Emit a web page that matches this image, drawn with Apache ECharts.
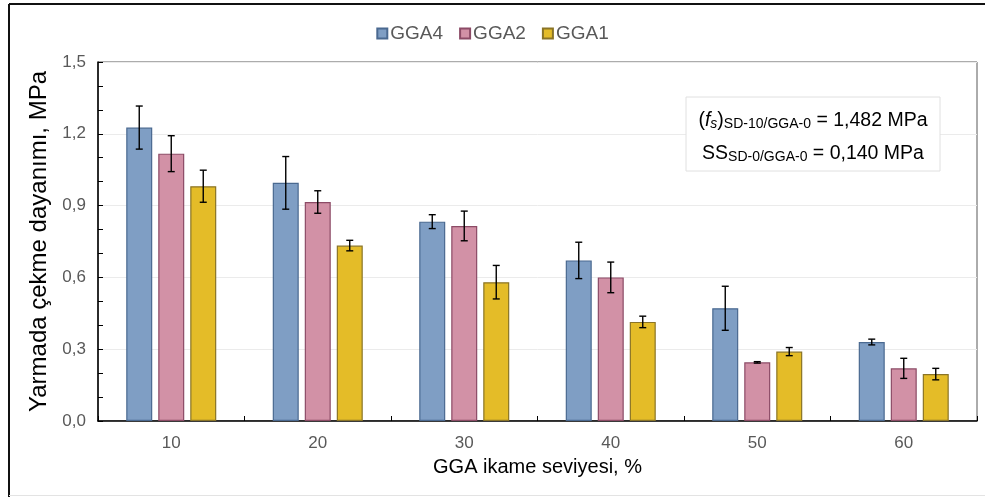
<!DOCTYPE html>
<html>
<head>
<meta charset="utf-8">
<script src="https://cdn.jsdelivr.net/npm/echarts@6/dist/echarts.min.js"></script>
<style>
  html, body { margin: 0; padding: 0; background: #fff; }
  #chart { width: 985px; height: 497px; }
</style>
</head>
<body>
<div id="chart"></div>
<script>
// GGA replacement level (%) on the x axis
const categories = ['10', '20', '30', '40', '50', '60'];

// Splitting tensile strength (MPa) and standard deviation per mix
const gga4 = [1.226, 0.995, 0.833, 0.671, 0.471, 0.330];
const gga4Err = [0.090, 0.110, 0.029, 0.076, 0.092, 0.012];
const gga2 = [1.117, 0.915, 0.815, 0.600, 0.245, 0.220];
const gga2Err = [0.075, 0.047, 0.062, 0.064, 0.003, 0.042];
const gga1 = [0.981, 0.733, 0.580, 0.414, 0.290, 0.196];
const gga1Err = [0.067, 0.022, 0.070, 0.024, 0.017, 0.024];

const yTicks = { min: 0, max: 1.5, interval: 0.3 };

const BAR_W = 26;
const BAR_GAP_PX = 6;
const FONT = '"Liberation Sans", Arial, sans-serif';

const seriesDefs = [
  { name: 'GGA4', values: gga4, errs: gga4Err, fill: '#7f9ec4', border: '#4a6990' },
  { name: 'GGA2', values: gga2, errs: gga2Err, fill: '#d291a6', border: '#8c4b66' },
  { name: 'GGA1', values: gga1, errs: gga1Err, fill: '#e4bc28', border: '#8a7426' }
];

const chart = echarts.init(document.getElementById('chart'), null, { renderer: 'canvas' });

const barSeries = seriesDefs.map(s => ({
  name: s.name,
  type: 'bar',
  data: s.values,
  barWidth: BAR_W,
  barGap: (BAR_GAP_PX / BAR_W * 100).toFixed(1) + '%',
  itemStyle: { color: s.fill, borderColor: s.border, borderWidth: 1.2 },
  emphasis: { disabled: true },
  z: 2
}));

// Error bars drawn on top of each bar, shifted to that bar's slot in the group
const errSeries = seriesDefs.map((s, idx) => ({
  name: s.name + ' SD',
  type: 'custom',
  z: 5,
  silent: true,
  data: s.values.map((v, i) => [i, v, s.errs[i]]),
  encode: { x: 0, y: 1 },
  renderItem: function (params, api) {
    const i = api.value(0), v = api.value(1), e = api.value(2);
    const shift = (idx - (seriesDefs.length - 1) / 2) * (BAR_W + BAR_GAP_PX);
    const top = api.coord([i, v + e]);
    const bot = api.coord([i, v - e]);
    const x = top[0] + shift;
    const cap = 3.5;
    const style = { stroke: '#000', lineWidth: 1.4 };
    return {
      type: 'group',
      children: [
        { type: 'line', shape: { x1: x, y1: top[1], x2: x, y2: bot[1] }, style },
        { type: 'line', shape: { x1: x - cap, y1: top[1], x2: x + cap, y2: top[1] }, style },
        { type: 'line', shape: { x1: x - cap, y1: bot[1], x2: x + cap, y2: bot[1] }, style }
      ]
    };
  }
}));

const option = {
  animation: false,
  backgroundColor: '#fff',
  textStyle: { fontFamily: FONT },
  legend: {
    data: seriesDefs.map(s => s.name),
    top: 19,
    left: 'center',
    icon: 'rect',
    itemWidth: 10,
    itemHeight: 10,
    itemGap: 16,
    textStyle: { fontSize: 19, color: '#595959', fontFamily: FONT, padding: [0, 0, 0, -2] }
  },
  grid: {
    left: 98, right: 8, top: 62, bottom: 76,
    show: true, borderColor: '#595959', borderWidth: 1, backgroundColor: 'transparent'
  },
  xAxis: {
    type: 'category',
    data: categories,
    name: 'GGA ikame seviyesi, %',
    nameLocation: 'middle',
    nameGap: 36,
    nameTextStyle: { fontSize: 20, color: '#000', fontFamily: FONT },
    axisLine: { lineStyle: { color: '#000', width: 1.5 } },
    axisTick: { show: true, inside: true, length: 5, lineStyle: { color: '#000' } },
    axisLabel: { fontSize: 17, color: '#595959', margin: 14, fontFamily: FONT },
    splitLine: { show: false }
  },
  yAxis: {
    type: 'value',
    min: yTicks.min,
    max: yTicks.max,
    interval: yTicks.interval,
    name: 'Yarmada çekme dayanımı, MPa',
    nameLocation: 'middle',
    nameGap: 37,
    nameTextStyle: { fontSize: 24, color: '#000', fontFamily: FONT },
    axisLine: { show: true, lineStyle: { color: '#000', width: 1.5 } },
    axisTick: { show: true, inside: true, length: 5, lineStyle: { color: '#000' } },
    minorTick: { show: true, splitNumber: 3, length: 5, lineStyle: { color: '#000' } },
    axisLabel: {
      fontSize: 17, color: '#595959', margin: 12, fontFamily: FONT,
      formatter: v => v.toFixed(1).replace('.', ',')
    },
    splitLine: { show: true, lineStyle: { color: '#ebebeb', width: 1 } }
  },
  graphic: [
    // outer frame
    { type: 'line', shape: { x1: 9, y1: 4, x2: 985, y2: 4 }, style: { stroke: '#111', lineWidth: 2 }, z: 10 },
    { type: 'line', shape: { x1: 9, y1: 4, x2: 9, y2: 497 }, style: { stroke: '#111', lineWidth: 2 }, z: 10 },
    { type: 'line', shape: { x1: 9, y1: 495.5, x2: 985, y2: 495.5 }, style: { stroke: '#e3e3e3', lineWidth: 1 }, z: 10 },
    // annotation box
    {
      type: 'rect', z: 20,
      shape: { x: 686, y: 97, width: 254, height: 74 },
      style: { fill: '#fff', stroke: '#e0e0e0', lineWidth: 1 }
    },
    {
      type: 'text', z: 21,
      x: 813, y: 131,
      style: {
        text: '{m|(}{i|f}{si|s}{m|)}{s|SD-10/GGA-0}{m| = 1,482 MPa}\n{m|SS}{s|SD-0/GGA-0}{m| = 0,140 MPa}',
        align: 'center',
        verticalAlign: 'middle',
        fill: '#000',
        rich: {
          m: { fontSize: 19.5, lineHeight: 33, fontFamily: FONT, fill: '#000', verticalAlign: 'bottom' },
          i: { fontSize: 19.5, lineHeight: 33, fontFamily: FONT, fontStyle: 'italic', fill: '#000', verticalAlign: 'bottom' },
          s: { fontSize: 14, lineHeight: 21, fontFamily: FONT, fill: '#000', verticalAlign: 'bottom' },
          si: { fontSize: 14, lineHeight: 21, fontFamily: FONT, fontStyle: 'italic', fill: '#000', verticalAlign: 'bottom' }
        }
      }
    }
  ],
  series: barSeries.concat(errSeries)
};

chart.setOption(option);
</script>
</body>
</html>
